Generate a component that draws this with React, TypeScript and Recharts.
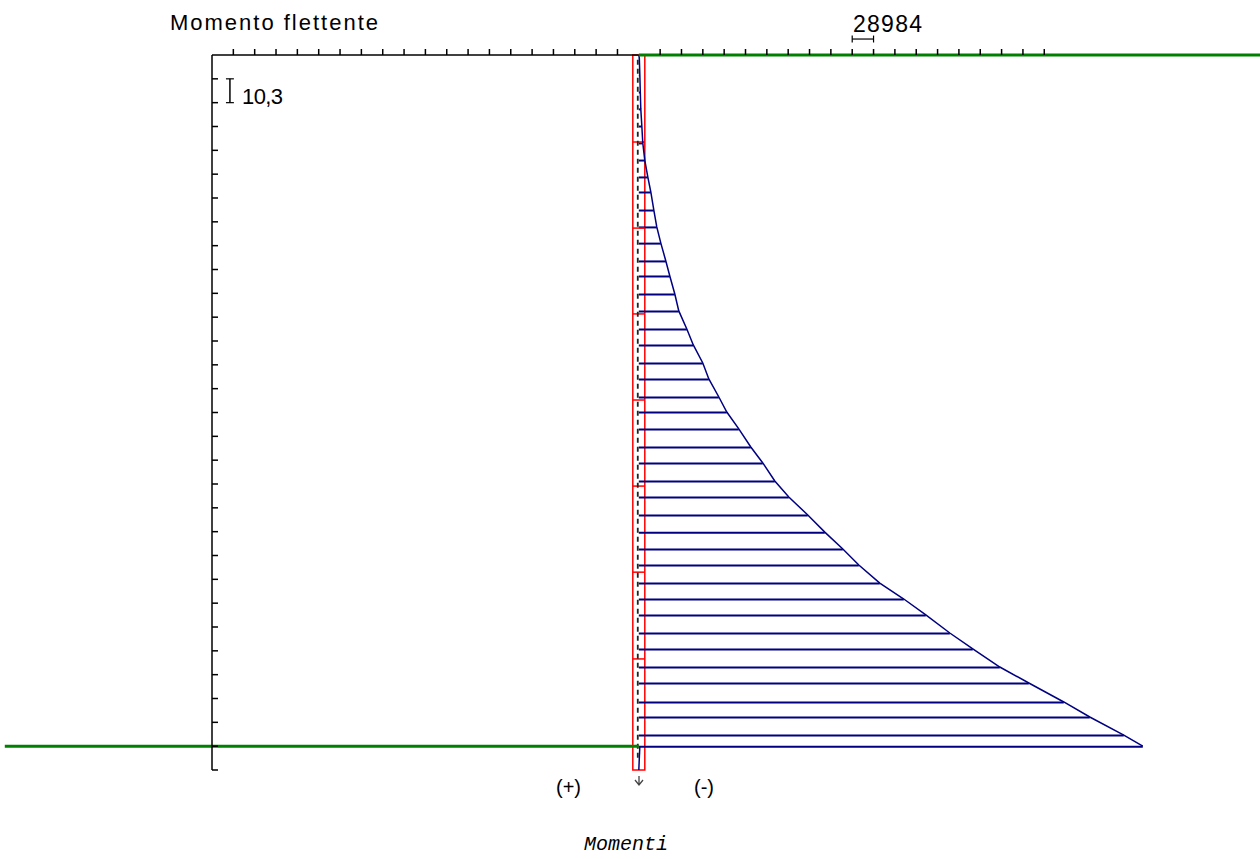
import { Bar, ComposedChart, Line, ReferenceArea, ReferenceLine, XAxis, YAxis } from "recharts";

// scale units: one top tick = 28984, one side tick = 10,3
const MOMENT_STEP = 28984;
const DEPTH_STEP = 10.3;
const EXCAVATION = 298.7; // 29 side ticks
const WALL_BOTTOM = 309; // 30 side ticks
const WALL_HALF = 8150;

// bending moment along the wall, down to the excavation level
const depths = [
  0, 1.3, 8.6, 16.0, 23.3, 30.7, 38.0, 45.4, 52.7, 59.2, 67.0, 74.3, 81.3, 89.0, 95.5,
  103.3, 110.6, 118.4, 125.3, 133.1, 140.0, 147.8, 154.3, 161.6, 169.4, 176.3, 184.1,
  191.0, 198.8, 206.2, 213.5, 220.4, 228.2, 235.1, 242.0, 249.8, 256.7, 264.5, 271.4,
  279.6, 286.1, 293.9, 298.7,
];
const moments = [
  0, 700, 1400, 2000, 2700, 4100, 5400, 8100, 12200, 16300, 20400, 24400, 29900, 36700,
  42100, 48900, 54300, 65200, 74000, 86900, 95100, 108700, 119500, 135800, 152100,
  168400, 184700, 203700, 229500, 252600, 277100, 298800, 327300, 359900, 389800,
  422400, 453600, 490300, 529700, 577200, 612500, 658700, 684500,
];

// embedded toe below the excavation
const toeDepths = [298.7, 309];
const toeMoments = [1400, 0];

// wall segment joints
const wallJoints = [37.6, 74.8, 111.9, 149.1, 186.3, 223.5, 261.0];

const topTicks = [
  -19, -18, -17, -16, -15, -14, -13, -12, -11, -10, -9, -8, -7, -6, -5, -4, -3, -2, -1,
  1, 2, 3, 4, 5, 6, 7, 8, 9, 10, 11, 12, 13, 14, 15, 16, 17, 18, 19,
].map((k) => k * MOMENT_STEP);
const sideTicks = [
  1, 2, 3, 4, 5, 6, 7, 8, 9, 10, 11, 12, 13, 14, 15, 16, 17, 18, 19, 20, 21, 22, 23, 24,
  25, 26, 27, 28, 29, 30,
].map((k) => k * DEPTH_STEP);

const data = depths.map((depth, i) => ({ depth, moment: moments[i] }));
const toeData = toeDepths.map((depth, i) => ({ depth, moment: toeMoments[i] }));

const X_MIN = -20 * MOMENT_STEP;
const X_MAX = 843700;
const X_LEFT_EDGE = -861100;

const NAVY = "#000080";
const GREEN = "#008000";
const RED = "#ff0000";

const sans = '"Liberation Sans", Arial, sans-serif';

// tick marks only, no numbers
const NoLabel = () => null;

export default function App() {
  const barX = -19.16 * MOMENT_STEP;
  return (
    <div style={{ position: "absolute", left: 0, top: 0, width: 1260, height: 859, background: "#fff" }}>
      <ComposedChart
        width={1260}
        height={859}
        layout="vertical"
        data={data}
        margin={{ top: 25, right: 0, bottom: 89, left: 212 }}
      >
        <XAxis
          type="number"
          orientation="top"
          domain={[X_MIN, X_MAX]}
          ticks={topTicks}
          interval={0}
          allowDataOverflow
          tick={<NoLabel />}
          tickSize={6}
          tickLine={{ stroke: "#000", strokeWidth: 1.5 }}
          axisLine={false}
          height={30}
        />
        <YAxis
          type="number"
          dataKey="depth"
          domain={[0, WALL_BOTTOM]}
          mirror
          ticks={sideTicks}
          interval={0}
          allowDataOverflow
          tick={<NoLabel />}
          tickSize={6}
          tickLine={{ stroke: "#000", strokeWidth: 1.5 }}
          axisLine={{ stroke: "#000", strokeWidth: 1.5 }}
        />

        {/* wall */}
        <ReferenceArea
          x1={-WALL_HALF}
          x2={WALL_HALF}
          y1={0}
          y2={WALL_BOTTOM}
          fill="none"
          stroke={RED}
          strokeWidth={1.5}
          ifOverflow="visible"
        />
        {wallJoints.map((d) => (
          <ReferenceLine
            key={d}
            segment={[{ x: -WALL_HALF, y: d }, { x: WALL_HALF, y: d }]}
            stroke={RED}
            strokeWidth={1.5}
            ifOverflow="visible"
          />
        ))}
        <ReferenceLine
          segment={[{ x: -1400, y: 2 }, { x: -1400, y: 305 }]}
          stroke="#222"
          strokeWidth={1.8}
          strokeDasharray="5 4"
          ifOverflow="visible"
        />

        {/* hatching and outline of the diagram */}
        <Bar dataKey="moment" fill={NAVY} barSize={2} isAnimationActive={false} />
        <Line
          dataKey="moment"
          type="linear"
          stroke={NAVY}
          strokeWidth={1.5}
          dot={false}
          isAnimationActive={false}
        />
        <Line
          data={toeData}
          dataKey="moment"
          type="linear"
          stroke={NAVY}
          strokeWidth={1.5}
          dot={false}
          isAnimationActive={false}
        />

        {/* top edge and ground levels */}
        <ReferenceLine
          segment={[{ x: X_MIN, y: 0 }, { x: 0, y: 0 }]}
          stroke="#000"
          strokeWidth={1.5}
          ifOverflow="visible"
        />
        <ReferenceLine
          segment={[{ x: 0, y: 0 }, { x: X_MAX, y: 0 }]}
          stroke={GREEN}
          strokeWidth={3}
          ifOverflow="visible"
        />
        <ReferenceLine
          segment={[{ x: X_LEFT_EDGE, y: EXCAVATION }, { x: 0, y: EXCAVATION }]}
          stroke={GREEN}
          strokeWidth={3}
          ifOverflow="visible"
        />

        {/* scale bars */}
        <ReferenceLine
          segment={[{ x: 10 * MOMENT_STEP, y: -6.9 }, { x: 11 * MOMENT_STEP, y: -6.9 }]}
          stroke="#000"
          strokeWidth={1.2}
          ifOverflow="visible"
        />
        {[10, 11].map((k) => (
          <ReferenceLine
            key={k}
            segment={[{ x: k * MOMENT_STEP, y: -8.4 }, { x: k * MOMENT_STEP, y: -5.4 }]}
            stroke="#000"
            strokeWidth={1.2}
            ifOverflow="visible"
          />
        ))}
        <ReferenceLine
          segment={[{ x: barX, y: DEPTH_STEP }, { x: barX, y: 2 * DEPTH_STEP }]}
          stroke="#000"
          strokeWidth={1.5}
          ifOverflow="visible"
        />
        {[1, 2].map((k) => (
          <ReferenceLine
            key={k}
            segment={[{ x: barX - 5400, y: k * DEPTH_STEP }, { x: barX + 5400, y: k * DEPTH_STEP }]}
            stroke="#000"
            strokeWidth={1.2}
            ifOverflow="visible"
          />
        ))}
      </ComposedChart>

      <svg
        width={1260}
        height={859}
        style={{ position: "absolute", left: 0, top: 0, pointerEvents: "none" }}
      >
        <text x={170} y={30} fontFamily={sans} fontSize={22} textLength={208} lengthAdjust="spacing" fill="#000">
          Momento flettente
        </text>
        <text x={853} y={32} fontFamily={sans} fontSize={23} textLength={69} lengthAdjust="spacing" fill="#000">
          28984
        </text>
        <text x={242} y={104} fontFamily={sans} fontSize={22} textLength={41} lengthAdjust="spacing" fill="#000">
          10,3
        </text>
        <text x={556} y={794} fontFamily={sans} fontSize={20} fill="#000">
          (+)
        </text>
        <text x={694} y={794} fontFamily={sans} fontSize={20} fill="#000">
          (-)
        </text>
        <path d="M635 780 L639 785 L643 780 M639 776 L639 785" stroke="#444" strokeWidth={1.3} fill="none" />
        <text
          x={626}
          y={850}
          textAnchor="middle"
          fontFamily='"Liberation Mono", "Courier New", monospace'
          fontStyle="italic"
          fontSize={20}
          fill="#000"
        >
          Momenti
        </text>
      </svg>
    </div>
  );
}
